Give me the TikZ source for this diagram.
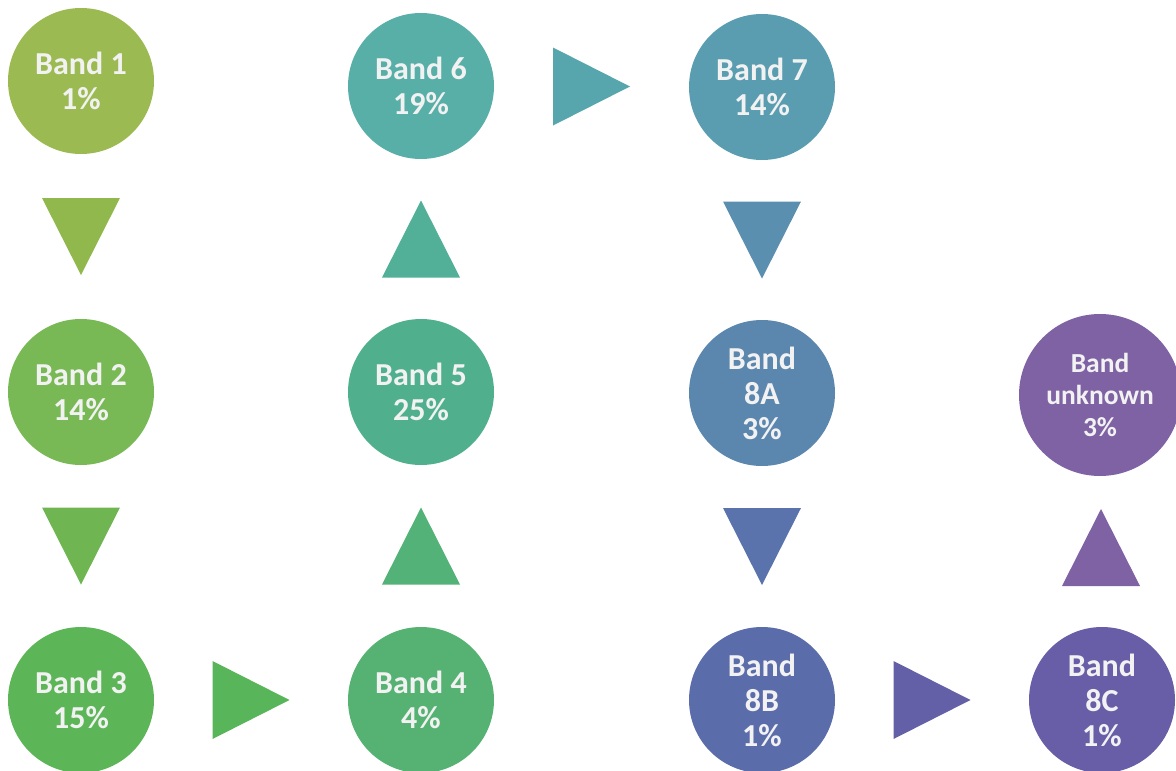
\documentclass[tikz,border=0pt]{standalone}
\usepackage{fontspec}
\setmainfont{Carlito}
\usetikzlibrary{calc}

% band colours
\definecolor{cA}{HTML}{9BBB52}
\definecolor{cB}{HTML}{78B955}
\definecolor{cC}{HTML}{5CB657}
\definecolor{cD}{HTML}{55B272}
\definecolor{cE}{HTML}{50B08E}
\definecolor{cF}{HTML}{58AFA8}
\definecolor{cG}{HTML}{5A9DB1}
\definecolor{cH}{HTML}{5B86AE}
\definecolor{cI}{HTML}{5B6CAB}
\definecolor{cJ}{HTML}{675EA7}
\definecolor{cK}{HTML}{7E62A4}
% arrow colours
\definecolor{tA}{HTML}{90B84C}
\definecolor{tB}{HTML}{6FB652}
\definecolor{tC}{HTML}{59B55A}
\definecolor{tD}{HTML}{52B277}
\definecolor{tE}{HTML}{52AF98}
\definecolor{tF}{HTML}{58A6AD}
\definecolor{tG}{HTML}{5A8FB0}
\definecolor{tH}{HTML}{5A73AC}
\definecolor{tI}{HTML}{6460A8}
\definecolor{tJ}{HTML}{7F62A3}

\tikzset{
  band/.style={circle, fill=#1, minimum size=146pt, inner sep=0pt,
    text=white!95!black, align=center,
    font=\fontsize{32}{35}\selectfont\bfseries},
  bandsmall/.style={band=#1, minimum size=162pt,
    font=\fontsize{27.5}{32}\selectfont\bfseries},
}

% filled triangle arrows centred between two nodes
\newcommand{\tridown}[3]{\fill[#3] ($(#1)!0.5!(#2)+(-39,-38.5)$) -- ($(#1)!0.5!(#2)+(39,-38.5)$) -- ($(#1)!0.5!(#2)+(0,38.5)$) -- cycle;}
\newcommand{\triup}[3]{\fill[#3] ($(#1)!0.5!(#2)+(-39,38.5)$) -- ($(#1)!0.5!(#2)+(39,38.5)$) -- ($(#1)!0.5!(#2)+(0,-38.5)$) -- cycle;}
\newcommand{\triright}[3]{\fill[#3] ($(#1)!0.5!(#2)+(-38.5,-39)$) -- ($(#1)!0.5!(#2)+(-38.5,39)$) -- ($(#1)!0.5!(#2)+(38.5,0)$) -- cycle;}

\begin{document}
\begin{tikzpicture}[x=1pt, y=-1pt]
\useasboundingbox (0,0) rectangle (1176,771);

\node[band=cA] (b1) at (81,81) {Band 1\\1\%};
\node[band=cB] (b2) at (81,392) {Band 2\\14\%};
\node[band=cC] (b3) at (81,700) {Band 3\\15\%};
\node[band=cD] (b4) at (421,700) {Band 4\\4\%};
\node[band=cE] (b5) at (421,392) {Band 5\\25\%};
\node[band=cF] (b6) at (421,86) {Band 6\\19\%};
\node[band=cG] (b7) at (762,87) {Band 7\\14\%};
\node[band=cH] (b8a) at (762,393) {Band\\8A\\3\%};
\node[band=cI] (b8b) at (762,700) {Band\\8B\\1\%};
\node[band=cJ] (b8c) at (1102,700) {Band\\8C\\1\%};
\node[bandsmall=cK] (bu) at (1100,395) {Band\\unknown\\3\%};

\tridown{b1}{b2}{tA}
\tridown{b2}{b3}{tB}
\triright{b3}{b4}{tC}
\triup{b4}{b5}{tD}
\triup{b5}{b6}{tE}
\triright{b6}{b7}{tF}
\tridown{b7}{b8a}{tG}
\tridown{b8a}{b8b}{tH}
\triright{b8b}{b8c}{tI}
\triup{b8c}{bu}{tJ}
\end{tikzpicture}
\end{document}
